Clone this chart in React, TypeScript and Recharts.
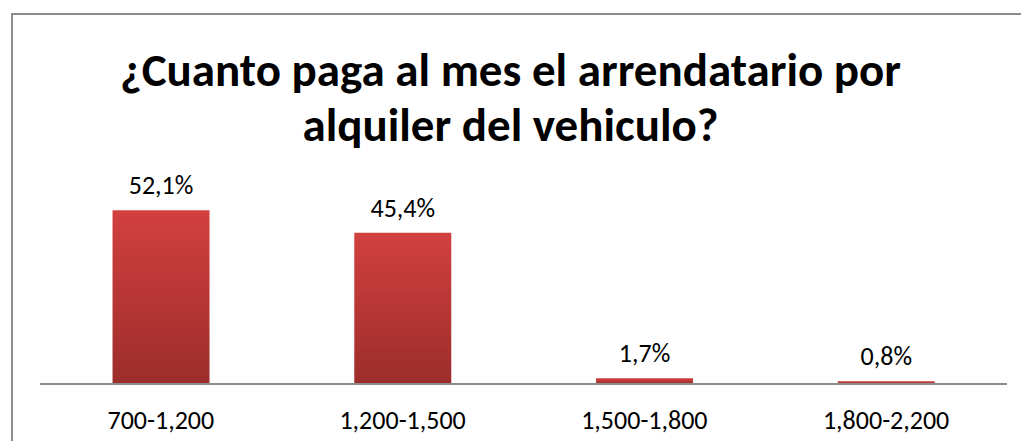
import { BarChart, Bar, XAxis, YAxis, LabelList } from "recharts";

const categories = ["700-1,200", "1,200-1,500", "1,500-1,800", "1,800-2,200"];
const shares = [52.1, 45.4, 1.7, 0.8];
const shareLabels = ["52,1%", "45,4%", "1,7%", "0,8%"];

const data = categories.map((rango, i) => ({
  rango,
  value: shares[i],
  label: shareLabels[i],
}));

const FONT = "Carlito, 'Open Sans', 'Liberation Sans', sans-serif";

export default function App() {
  return (
    <div
      style={{
        position: "absolute",
        left: 0,
        top: 0,
        width: 1021,
        height: 441,
        background: "#fff",
        overflow: "hidden",
        fontFamily: FONT,
      }}
    >
      <div
        style={{
          position: "absolute",
          left: 11,
          top: 13,
          width: 1030,
          height: 460,
          border: "2px solid #8c8c8c",
          boxSizing: "border-box",
        }}
      />
      <div
        style={{
          position: "absolute",
          left: 0,
          top: 43,
          width: 1021,
          textAlign: "center",
          fontWeight: 700,
          fontSize: 47,
          lineHeight: "55px",
          color: "#000",
        }}
      >
        ¿Cuanto paga al mes el arrendatario por
        <br />
        alquiler del vehiculo?
      </div>
      <BarChart
        width={1021}
        height={441}
        data={data}
        margin={{ top: 184, right: 14, left: 40, bottom: 17 }}
        barCategoryGap="30%"
        style={{ position: "absolute", left: 0, top: 0 }}
      >
        <defs>
          <linearGradient id="barRed" x1="0" y1="0" x2="0" y2="1">
            <stop offset="0%" stopColor="#d2403e" />
            <stop offset="100%" stopColor="#9c2d2b" />
          </linearGradient>
        </defs>
        <XAxis
          dataKey="rango"
          height={40}
          tickLine={false}
          stroke="#8c8c8c"
          strokeWidth={2}
          tickMargin={21}
          tick={{ fontSize: 26, fill: "#000", fontFamily: FONT }}
        />
        <YAxis hide domain={[0, 60]} />
        <Bar dataKey="value" fill="url(#barRed)" isAnimationActive={false}>
          <LabelList
            dataKey="label"
            position="top"
            offset={16}
            style={{ fontSize: 26, fill: "#000", fontFamily: FONT }}
          />
        </Bar>
      </BarChart>
    </div>
  );
}
